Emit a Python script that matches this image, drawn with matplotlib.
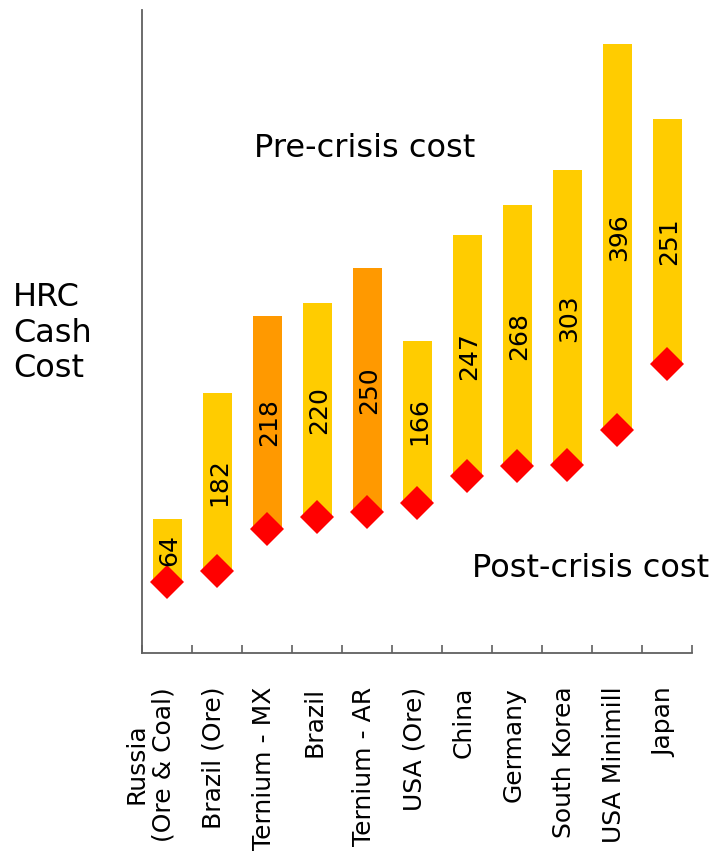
import numpy as np
import matplotlib
matplotlib.use('Agg')
import matplotlib.pyplot as plt

plt.rcParams['font.family'] = ['DejaVu Sans']

# categories and values
countries = ['Russia\n(Ore & Coal)', 'Brazil (Ore)', 'Ternium - MX', 'Brazil', 'Ternium - AR',
             'USA (Ore)', 'China', 'Germany', 'South Korea', 'USA Minimill', 'Japan']
post_crisis = [73, 84, 127, 139, 144, 154, 181, 191, 192, 228, 296]
gap = [64, 182, 218, 220, 250, 166, 247, 268, 303, 396, 251]
is_ternium = [False, False, True, False, True, False, False, False, False, False, False]

yellow = '#FFCC00'
orange = '#FF9900'
red = '#FF0000'
grey = '#606060'

fig = plt.figure(figsize=(7.13, 8.58), dpi=100)
ax = fig.add_axes([142/713, 1 - 652.7/858, 550/713, 642.7/858])

x = np.arange(len(countries))
colors = [orange if t else yellow for t in is_ternium]
ax.bar(x, gap, bottom=post_crisis, width=0.58, color=colors, zorder=2)
ax.plot(x, post_crisis, linestyle='none', marker='D', markersize=17.5,
        color=red, markeredgewidth=0, zorder=3)

for i in range(len(countries)):
    mid = post_crisis[i] + gap[i] / 2
    ax.text(x[i] + 0.04, mid, str(gap[i]), rotation=90, ha='center', va='center',
            fontsize=18, color='black', zorder=4)

ax.set_xlim(-0.5, len(countries) - 0.5)
ax.set_ylim(0, 659)

for s in ['top', 'right']:
    ax.spines[s].set_visible(False)
for s in ['left', 'bottom']:
    ax.spines[s].set_color(grey)
    ax.spines[s].set_linewidth(1.3)

ax.set_yticks([])
ax.set_xticks([])
ax.set_xticks(np.arange(len(countries) + 1) - 0.5, minor=True)
ax.tick_params(axis='x', which='minor', direction='in', length=6, width=1.2, color=grey)

# category labels under the axis
trans = matplotlib.transforms.blended_transform_factory(ax.transData, ax.transAxes)
for i, name in enumerate(countries):
    ax.text(x[i] + 0.18, -0.053, name, rotation=90, ha='right', va='top',
            multialignment='center', fontsize=18, transform=trans)

fig.text(13/713, 1 - 333/858, 'HRC\nCash\nCost', ha='left', va='center',
         fontsize=23, linespacing=1.2)
fig.text(254/713, 1 - 157/858, 'Pre-crisis cost', ha='left', va='baseline', fontsize=23)
fig.text(472/713, 1 - 577/858, 'Post-crisis cost', ha='left', va='baseline', fontsize=23)

fig.savefig('out.png', dpi=100)
